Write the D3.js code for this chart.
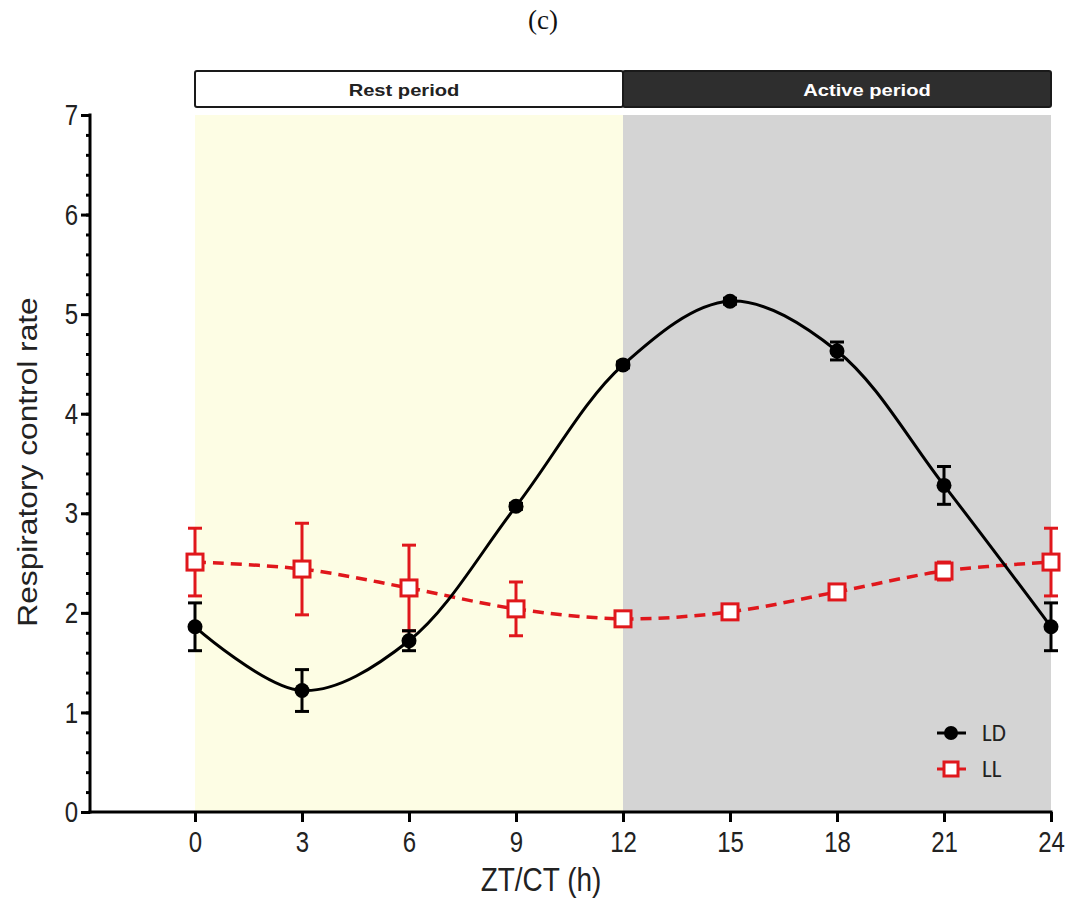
<!DOCTYPE html>
<html>
<head>
<meta charset="utf-8">
<script src="https://cdn.jsdelivr.net/npm/d3@7"></script>
<style>
  html, body { margin: 0; padding: 0; background: #fff; }
  svg { display: block; }
</style>
</head>
<body>
<svg id="chart" width="1072" height="903"></svg>
<script>
// Sampling times (h) and respiratory control rate per condition
const hours = [0, 3, 6, 9, 12, 15, 18, 21, 24];
const ldMean = [1.86, 1.22, 1.72, 3.07, 4.49, 5.13, 4.63, 3.28, 1.86];
const ldErr  = [0.24, 0.21, 0.10, 0.03, 0.03, 0.03, 0.09, 0.19, 0.24];
const llMean = [2.51, 2.44, 2.25, 2.04, 1.94, 2.01, 2.21, 2.42, 2.51];
const llErr  = [0.34, 0.46, 0.43, 0.27, 0.03, 0.03, 0.04, 0.09, 0.34];
const xTicks = [0, 3, 6, 9, 12, 15, 18, 21, 24];
const yTicks = [0, 1, 2, 3, 4, 5, 6, 7];
const periodLabels = ["Rest period", "Active period"];
const periodBounds = [[0, 12], [12, 24]];

const svg = d3.select("#chart");
const axisX0 = 90;   // y axis line position
const x = d3.scaleLinear().domain([0, 24]).range([195, 1051]);
const y = d3.scaleLinear().domain([0, 7]).range([812, 115]);

const sans = "'Liberation Sans', Arial, sans-serif";
const periodStyle = [
  { fill: "#ffffff", text: "#222", bg: "#fdfde4", cx: 404 },
  { fill: "#2e2e2e", text: "#ffffff", bg: "#d4d4d4", cx: 867 }
];
const periods = periodLabels.map((label, i) => ({
  label, from: periodBounds[i][0], to: periodBounds[i][1], ...periodStyle[i]
}));

// Shaded light/dark phases
svg.append("g").selectAll("rect").data(periods).join("rect")
  .attr("x", d => x(d.from)).attr("width", d => x(d.to) - x(d.from))
  .attr("y", y(7)).attr("height", y(0) - y(7))
  .attr("fill", d => d.bg);

// Period bar above the plot
const bar = svg.append("g");
bar.selectAll("rect").data(periods).join("rect")
  .attr("x", d => x(d.from)).attr("width", d => x(d.to) - x(d.from))
  .attr("y", 71).attr("height", 36).attr("rx", 2)
  .attr("fill", d => d.fill).attr("stroke", "#1a1a1a").attr("stroke-width", 2);
bar.selectAll("text").data(periods).join("text")
  .attr("transform", d => `translate(${d.cx},96) scale(1.3,1.05)`)
  .attr("text-anchor", "middle")
  .attr("font-family", sans).attr("font-weight", "bold").attr("font-size", 15.5)
  .attr("fill", d => d.text)
  .text(d => d.label);

// Y axis with minor ticks every 0.2
const yMinor = svg.append("g").attr("transform", `translate(${axisX0},0)`)
  .call(d3.axisLeft(y).tickValues(d3.range(0, 7.001, 0.2)).tickFormat("").tickSize(4).tickSizeOuter(0));
yMinor.select(".domain").remove();
yMinor.selectAll(".tick line").attr("stroke-width", 3).attr("stroke", "#000");

const yMajor = svg.append("g").attr("transform", `translate(${axisX0},0)`)
  .call(d3.axisLeft(y).tickValues(yTicks).tickFormat(d3.format("d")).tickSize(9).tickSizeOuter(0).tickPadding(3));
yMajor.select(".domain").remove();
yMajor.selectAll(".tick line").attr("stroke-width", 3).attr("stroke", "#000");
yMajor.selectAll(".tick text")
  .attr("font-family", sans).attr("font-size", 24).attr("fill", "#222")
  .attr("transform", "scale(1,1.25)");
svg.append("line").attr("x1", axisX0).attr("x2", axisX0).attr("y1", y(7) - 1.5).attr("y2", y(0) + 1.5)
  .attr("stroke", "#000").attr("stroke-width", 3);

// X axis
const xAxisG = svg.append("g").attr("transform", `translate(0,${y(0)})`)
  .call(d3.axisBottom(x).tickValues(xTicks).tickSize(10).tickSizeOuter(0).tickPadding(10));
xAxisG.select(".domain").remove();
xAxisG.selectAll(".tick line").attr("stroke-width", 3).attr("stroke", "#000");
xAxisG.selectAll(".tick text")
  .attr("font-family", sans).attr("font-size", 24).attr("fill", "#222")
  .attr("y", 19 / 1.25).attr("transform", "scale(1,1.25)");
svg.append("line").attr("x1", axisX0 - 1.5).attr("x2", x(24) + 1.5).attr("y1", y(0)).attr("y2", y(0))
  .attr("stroke", "#000").attr("stroke-width", 3);

// Axis titles and panel label
svg.append("text").attr("transform", "translate(541,891) scale(1,1.2)").attr("text-anchor", "middle")
  .attr("font-family", sans).attr("font-size", 28).attr("fill", "#222").text("ZT/CT (h)");
svg.append("text").attr("transform", "translate(37,462) rotate(-90) scale(1.22,1.05)").attr("text-anchor", "middle")
  .attr("font-family", sans).attr("font-size", 26).attr("fill", "#222").text("Respiratory control rate");
svg.append("text").attr("x", 543).attr("y", 29).attr("text-anchor", "middle")
  .attr("font-family", "'Liberation Serif', 'Times New Roman', serif").attr("font-size", 27).attr("fill", "#111").text("(c)");

const red = "#e0171c";
const ld = hours.map((h, i) => ({ h, m: ldMean[i], e: ldErr[i] }));
const ll = hours.map((h, i) => ({ h, m: llMean[i], e: llErr[i] }));
const line = d3.line().x(d => x(d.h)).y(d => y(d.m)).curve(d3.curveCatmullRom.alpha(0.5));

function errorBars(data, color) {
  const g = svg.append("g").attr("stroke", color).attr("stroke-width", 3);
  g.selectAll("line.v").data(data).join("line").attr("class", "v")
    .attr("x1", d => x(d.h)).attr("x2", d => x(d.h))
    .attr("y1", d => y(d.m - d.e)).attr("y2", d => y(d.m + d.e));
  ["lo", "hi"].forEach(k => {
    g.selectAll("line." + k).data(data).join("line").attr("class", k)
      .attr("x1", d => x(d.h) - 7).attr("x2", d => x(d.h) + 7)
      .attr("y1", d => y(k === "lo" ? d.m - d.e : d.m + d.e))
      .attr("y2", d => y(k === "lo" ? d.m - d.e : d.m + d.e));
  });
}

// LL series: dashed red with open squares
errorBars(ll, red);
svg.append("path").datum(ll).attr("d", line).attr("fill", "none")
  .attr("stroke", red).attr("stroke-width", 3.5).attr("stroke-dasharray", "11,7");

// LD series: solid black with filled circles
errorBars(ld, "#000");
svg.append("path").datum(ld).attr("d", line).attr("fill", "none")
  .attr("stroke", "#000").attr("stroke-width", 3);
svg.append("g").selectAll("circle").data(ld).join("circle")
  .attr("cx", d => x(d.h)).attr("cy", d => y(d.m)).attr("r", 7.5).attr("fill", "#000");

svg.append("g").selectAll("rect").data(ll).join("rect")
  .attr("x", d => x(d.h) - 8).attr("y", d => y(d.m) - 8)
  .attr("width", 16).attr("height", 16)
  .attr("fill", "#fff").attr("stroke", red).attr("stroke-width", 3);

// Legend
const legend = svg.append("g");
legend.append("line").attr("x1", 937).attr("x2", 966).attr("y1", 733).attr("y2", 733)
  .attr("stroke", "#000").attr("stroke-width", 3);
legend.append("circle").attr("cx", 951).attr("cy", 733).attr("r", 7).attr("fill", "#000");
legend.append("line").attr("x1", 937).attr("x2", 966).attr("y1", 769).attr("y2", 769)
  .attr("stroke", red).attr("stroke-width", 3);
legend.append("rect").attr("x", 944).attr("y", 762).attr("width", 14).attr("height", 14)
  .attr("fill", "#fff").attr("stroke", red).attr("stroke-width", 3);
legend.selectAll("text").data(["LD", "LL"]).join("text")
  .attr("transform", (d, i) => `translate(982,${741 + i * 36}) scale(1,1.08)`)
  .attr("font-family", "Carlito, 'Liberation Sans', sans-serif").attr("font-size", 23).attr("fill", "#222")
  .text(d => d);
</script>
</body>
</html>
